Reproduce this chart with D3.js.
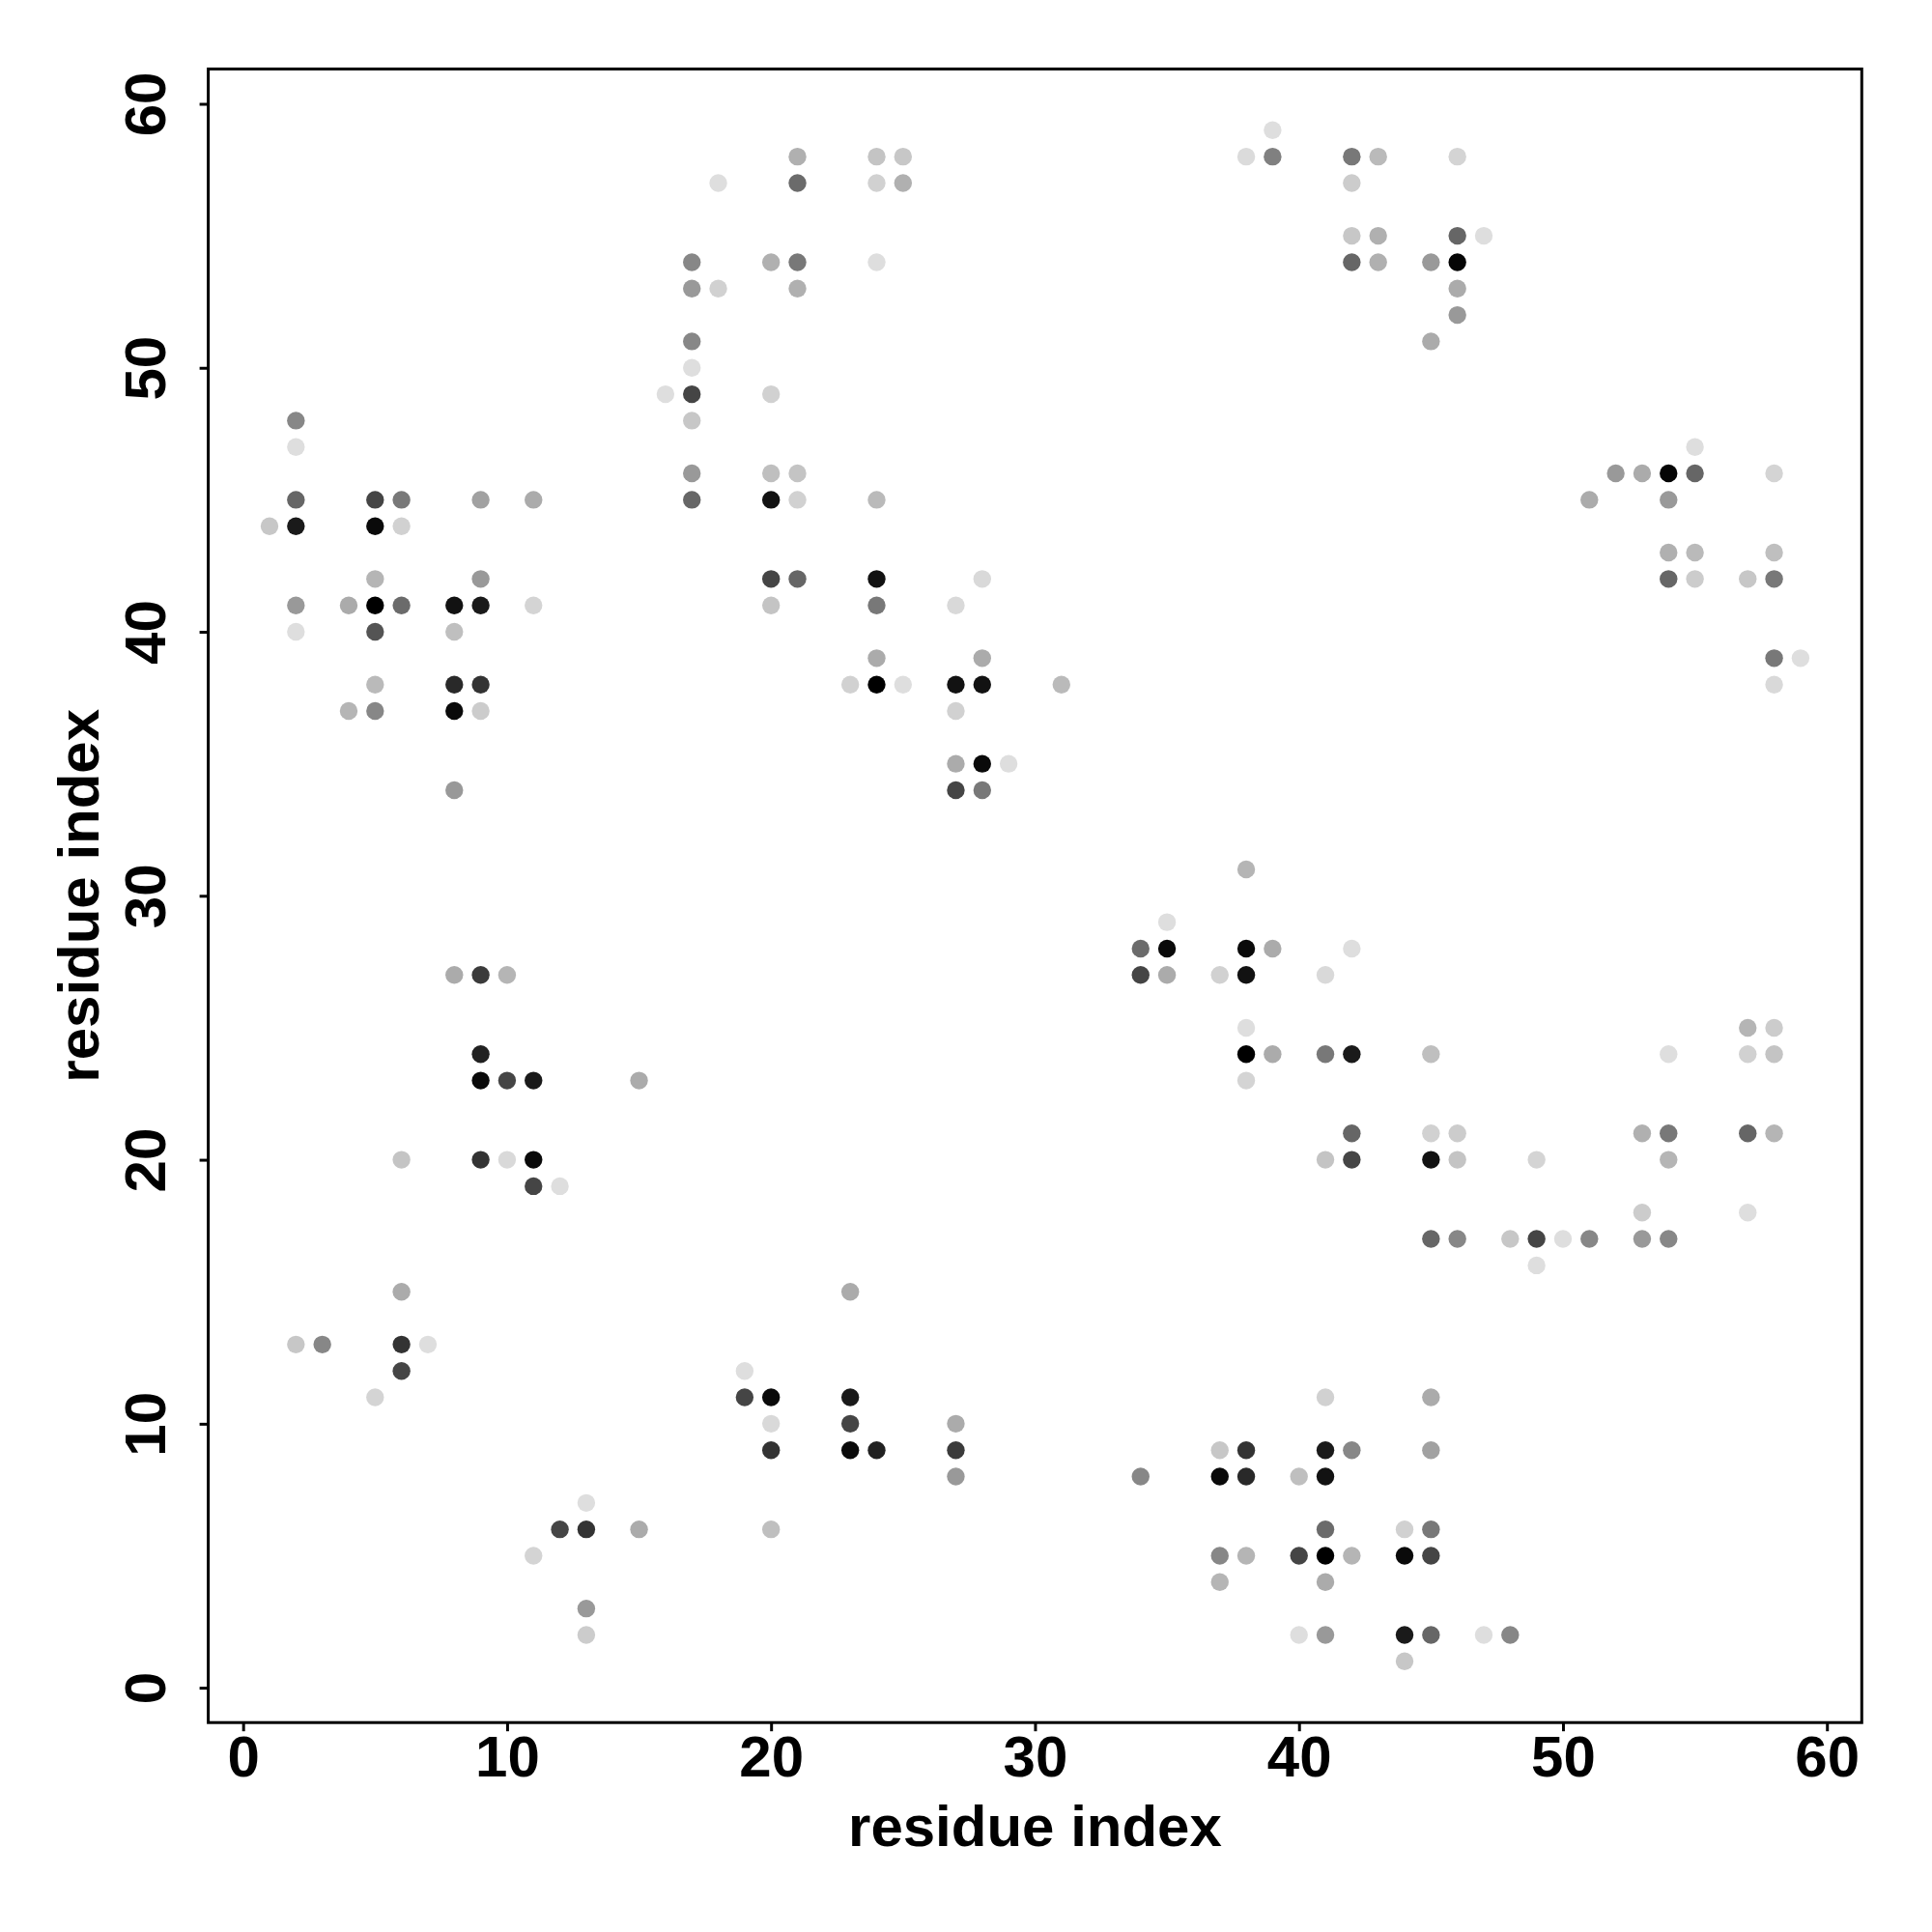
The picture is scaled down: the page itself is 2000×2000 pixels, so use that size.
<!DOCTYPE html>
<html>
<head>
<meta charset="utf-8">
<script src="https://cdn.jsdelivr.net/npm/d3@7"></script>
<style>
  html, body { margin: 0; padding: 0; background: #ffffff; }
  svg { display: block; }
</style>
</head>
<body>
<div id="chart"></div>
<script>
// ---- data: contact map (residue i, residue j, contact strength 0..1 -> grey level) ----
const residueI = [
  39,38,39,21,21,24,25,24,25,20,21,24,21,20,20,21,20,21,24,20,21,24,28,20,24,27,
  18,17,17,18,17,17,16,17,17,17,17,
  2,2,2,1,2,5,6,5,6,9,11,5,9,2,4,5,6,8,9,11,2,5,8,5,8,9,4,5,8,9,8,
  8,9,10,9,9,10,11,15,6,9,10,11,11,12,
  6,2,3,6,7,6,5,19,19,20,20,20,13,12,13,15,11,13,13,20,
  23,23,23,23,24,27,27,27,34,37,38,37,38,37,38,37,40,40,40,
  41,45,41,42,45,41,41,44,45,41,42,44,45,41,41,44,45,47,48,44,
  53,57,45,46,48,49,50,51,53,54,49,
  58,59,58,42,41,57,58,41,42,45,54,57,58,42,45,46,53,54,57,58,41,42,45,46,49,54,
  24,28,23,24,25,27,28,31,27,27,28,29,27,28,
  38,35,34,35,38,39,34,35,37,38,38,38,39,38,
  42,43,46,42,42,43,46,47,42,43,45,46,46,46,45,
  55,52,53,54,55,58,51,54,54,55,58,54,55,57,58
];
const residueJ = [
  59,58,58,58,57,58,58,57,57,54,54,54,53,49,46,46,45,45,45,42,42,42,42,41,41,41,
  57,54,53,53,51,50,49,49,48,46,45,
  48,47,45,44,44,45,45,44,44,45,45,42,42,41,41,41,41,41,41,41,40,40,40,38,38,38,37,37,37,37,34,
  27,27,27,24,23,23,23,23,20,20,20,20,19,19,
  15,13,13,13,13,12,11,12,11,11,10,9,7,6,6,6,5,3,2,6,
  15,11,10,9,9,10,9,8,8,9,9,8,8,5,5,4,8,5,2,
  11,11,9,9,9,8,6,6,6,5,5,5,5,4,2,2,2,2,2,1,
  18,18,17,17,17,17,17,17,17,17,16,
  39,39,38,28,27,25,25,24,24,24,24,24,24,21,21,21,21,21,21,21,20,20,20,20,20,20,
  39,39,38,38,38,38,38,38,37,35,35,35,34,34,
  31,29,28,28,28,28,27,27,27,27,25,24,24,23,
  58,58,58,57,55,55,55,55,54,54,54,54,53,52,51,
  47,46,46,46,46,46,45,45,43,43,43,42,42,42,42
];
const contactStrength = [
  .13,.14,.50,.31,.58,.23,.22,.18,.31,.31,.53,.13,.31,.18,.25,.23,.93,.18,.27,.73,.60,.93,.15,.23,.53,.15,
  .13,.47,.40,.18,.47,.13,.13,.73,.22,.40,.60,
  .47,.13,.60,.22,.90,.73,.53,.96,.18,.37,.33,.29,.40,.40,.33,1.0,.58,.93,.90,.17,.13,.67,.25,.27,.84,.80,.29,.47,.96,.20,.40,
  .33,.77,.29,.87,.96,.73,.90,.33,.23,.80,.15,.96,.73,.13,
  .33,.22,.47,.80,.13,.73,.17,.13,.73,.96,.15,.80,.13,.73,.80,.33,.17,.40,.20,.25,
  .33,.90,.73,.96,.87,.33,.77,.40,.47,.22,.80,.96,.84,.47,.29,.29,.25,.73,.13,
  .18,.33,.90,.47,.37,.93,.58,.18,.53,1.0,.29,.96,.73,.33,.40,.90,.60,.13,.47,.22,
  .20,.13,.60,.47,.22,.73,.13,.47,.40,.47,.13,
  .53,.13,.15,.13,.15,.29,.20,.53,.90,.25,.13,.18,.23,.60,.18,.20,.31,.53,.60,.29,.23,.73,.93,.23,.17,.29,
  .33,.33,.18,1.0,.13,.93,.93,.27,.18,.33,.96,.13,.73,.53,
  .29,.13,.58,.96,.96,.33,.73,.33,.18,.93,.13,1.0,.33,.17,
  .53,.27,.17,.20,.22,.31,.60,.13,.60,.31,.40,.98,.33,.40,.33,
  .13,.40,.33,.98,.60,.17,.33,.40,.31,.27,.25,.60,.20,.22,.53
];
const xTicks = [0, 10, 20, 30, 40, 50, 60];
const yTicks = [0, 10, 20, 30, 40, 50, 60];
const xTitle = "residue index";
const yTitle = "residue index";

// ---- layout ----
const W = 2000, H = 2000;
const plot = { left: 215.6, top: 71.4, right: 1927.3, bottom: 1783.2 };
const dom = [-1.32, 61.32];
const FONT = "'Liberation Sans', Arial, Helvetica, sans-serif";

const svg = d3.select("#chart").append("svg")
  .attr("width", W).attr("height", H)
  .attr("viewBox", `0 0 ${W} ${H}`);
svg.append("rect").attr("width", W).attr("height", H).attr("fill", "#ffffff");

const x = d3.scaleLinear().domain(dom).range([plot.left, plot.right]);
const y = d3.scaleLinear().domain(dom).range([plot.bottom, plot.top]);
const grey = d3.scaleLinear().domain([0, 1]).range(["#ffffff", "#000000"]);

const points = residueI.map((d, i) => ({ i: d, j: residueJ[i], s: contactStrength[i] }));

svg.append("g").selectAll("circle").data(points).join("circle")
  .attr("cx", d => x(d.i))
  .attr("cy", d => y(d.j))
  .attr("r", 9.2)
  .attr("fill", d => grey(d.s));

// frame
svg.append("rect")
  .attr("x", plot.left).attr("y", plot.top)
  .attr("width", plot.right - plot.left).attr("height", plot.bottom - plot.top)
  .attr("fill", "none").attr("stroke", "#000").attr("stroke-width", 3);

// x axis
const xAxis = svg.append("g")
  .attr("transform", `translate(0,${plot.bottom})`)
  .call(d3.axisBottom(x).tickValues(xTicks).tickSize(9).tickSizeOuter(0).tickPadding(4).tickFormat(d3.format("d")));
xAxis.select(".domain").remove();
xAxis.selectAll(".tick line").attr("stroke", "#000").attr("stroke-width", 3);
xAxis.selectAll(".tick text")
  .attr("fill", "#000")
  .style("font-family", FONT).style("font-weight", "bold").style("font-size", "60px");

// y axis
const yAxis = svg.append("g")
  .attr("transform", `translate(${plot.left},0)`)
  .call(d3.axisLeft(y).tickValues(yTicks).tickSize(9).tickSizeOuter(0).tickFormat(d3.format("d")));
yAxis.select(".domain").remove();
yAxis.selectAll(".tick line").attr("stroke", "#000").attr("stroke-width", 3);
yAxis.selectAll(".tick text")
  .attr("x", null).attr("dy", null)
  .attr("text-anchor", "middle")
  .attr("transform", "translate(-44.6,0) rotate(-90)")
  .attr("fill", "#000")
  .style("font-family", FONT).style("font-weight", "bold").style("font-size", "60px");

// titles
svg.append("text")
  .attr("x", (plot.left + plot.right) / 2).attr("y", 1911)
  .attr("text-anchor", "middle")
  .style("font-family", FONT).style("font-weight", "bold").style("font-size", "60px")
  .text(xTitle);
svg.append("text")
  .attr("transform", `translate(102,${(plot.top + plot.bottom) / 2}) rotate(-90)`)
  .attr("text-anchor", "middle")
  .style("font-family", FONT).style("font-weight", "bold").style("font-size", "60px")
  .text(yTitle);
</script>
</body>
</html>
